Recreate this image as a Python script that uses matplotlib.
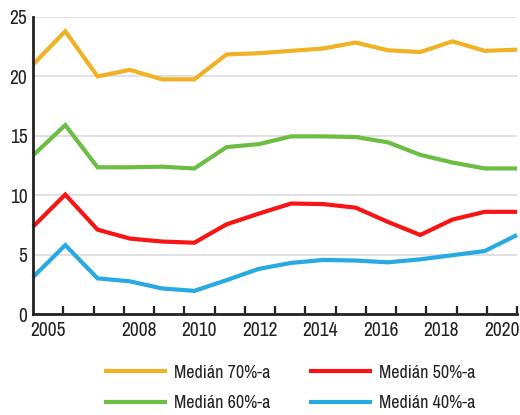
import matplotlib
matplotlib.use("Agg")
import matplotlib.pyplot as plt

plt.rcParams['font.family'] = ['Archivo Narrow', 'DejaVu Sans']

years = list(range(2005, 2021))
labelled_years = [2005, 2008, 2010, 2012, 2014, 2016, 2018, 2020]

median70 = [21.0, 23.8, 20.0, 20.55, 19.75, 19.75, 21.85, 21.95, 22.15, 22.35, 22.85, 22.2, 22.05, 22.95, 22.15, 22.25]
median60 = [13.35, 15.9, 12.35, 12.35, 12.4, 12.25, 14.05, 14.3, 14.95, 14.95, 14.9, 14.45, 13.4, 12.75, 12.25, 12.25]
median50 = [7.35, 10.05, 7.1, 6.35, 6.1, 6.0, 7.55, 8.45, 9.3, 9.25, 8.95, 7.75, 6.65, 7.95, 8.6, 8.6]
median40 = [3.1, 5.8, 3.0, 2.75, 2.15, 1.95, 2.85, 3.8, 4.3, 4.55, 4.5, 4.35, 4.6, 4.95, 5.3, 6.65]

series_labels = ["Medián 70%-a", "Medián 60%-a", "Medián 50%-a", "Medián 40%-a"]
colors = ["#F0B224", "#6CBE42", "#F81414", "#27A9E1"]
series = [median70, median60, median50, median40]

fig = plt.figure(figsize=(5.2, 4.15), dpi=100)
ax = fig.add_axes([33/520, 101/415, 484/520, 297/415])

idx = list(range(len(years)))
handles = []
for vals, col, lab in zip(series, colors, series_labels):
    ln, = ax.plot(idx, vals, color=col, lw=3.0, solid_joinstyle='miter',
                  solid_capstyle='butt', clip_on=False, zorder=3, label=lab)
    handles.append(ln)

n = len(years)
span = n - 1
ax.set_xlim(0, span)
ax.set_ylim(0, 25)

lab_pos = [(k + 0.5) * span / n for k in range(n)]
lab_txt = [str(y) if y in labelled_years else "" for y in years]
ax.set_xticks(lab_pos)
ax.set_xticklabels(lab_txt, fontsize=14, color="#222222")
ax.tick_params(axis='x', which='major', length=0, pad=5)
tick_pos = [(k + 1) * span / n for k in range(n)]
ax.set_xticks(tick_pos, minor=True)
ax.tick_params(axis='x', which='minor', direction='in', length=5.5, width=1.6, color="#222222")

ax.set_yticks([0, 5, 10, 15, 20, 25])
ax.set_yticklabels(["0", "5", "10", "15", "20", "25"], fontsize=14, color="#222222")
ax.tick_params(axis='y', length=0, pad=4)

ax.grid(axis='y', color="#d9d9d9", lw=1.1, zorder=0)
ax.set_axisbelow(True)
for s in ['top', 'right']:
    ax.spines[s].set_visible(False)
for s in ['left', 'bottom']:
    ax.spines[s].set_color("#222222")
    ax.spines[s].set_linewidth(2.0)
    ax.spines[s].set_zorder(4)

fig.legend(handles=handles, loc='center left', bbox_to_anchor=(104/520, 27/415),
           ncol=2, frameon=False, fontsize=13, handlelength=3.5, handletextpad=0.4,
           columnspacing=2.1, labelspacing=0.8, borderpad=0, borderaxespad=0,
           labelcolor="#222222")

fig.savefig("out.png", dpi=100)
